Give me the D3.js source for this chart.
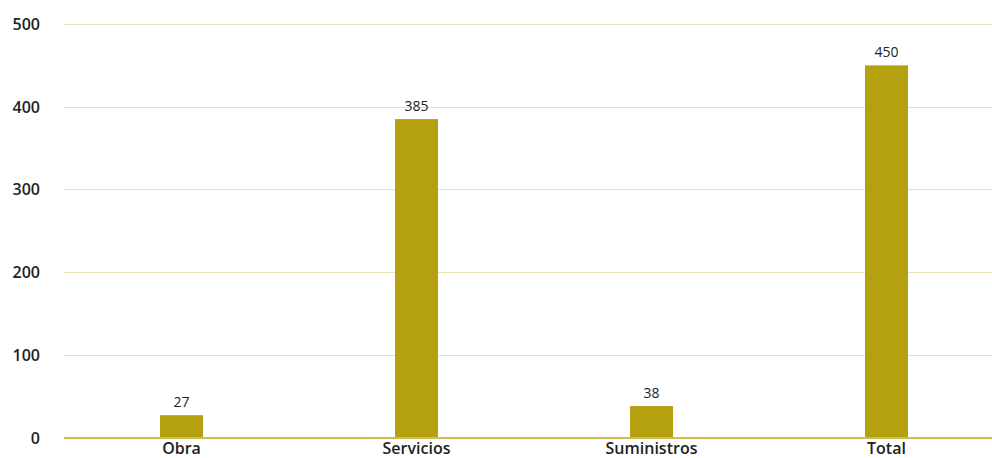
<!DOCTYPE html>
<html><head><meta charset="utf-8">
<script src="https://cdn.jsdelivr.net/npm/d3@7"></script>
<style>body{margin:0;background:#fff;}svg{display:block;font-family:"Open Sans","Noto Sans",sans-serif;}</style>
</head><body>
<svg id="c" width="992" height="458"></svg>
<script>
const categories = ["Obra", "Servicios", "Suministros", "Total"];
const values = [27, 385, 38, 450];
const yTicks = [0, 100, 200, 300, 400, 500];

const svg = d3.select("#c");
const x = d3.scaleBand().domain(categories).range([64, 1004]).padding(0);
const y = d3.scaleLinear().domain([0, 500]).range([437.5, 24]);
const barW = x.bandwidth() * 0.183;

// gridlines
svg.append("g").selectAll("line").data(yTicks.filter(d => d > 0)).join("line")
  .attr("x1", 64).attr("x2", 992)
  .attr("y1", d => Math.round(y(d)) + 0.5).attr("y2", d => Math.round(y(d)) + 0.5)
  .attr("stroke", "#ece2b0").attr("stroke-width", 1);

// y labels
svg.append("g").selectAll("text").data(yTicks).join("text")
  .attr("x", 40).attr("y", d => y(d) + 6)
  .attr("text-anchor", "end").attr("font-size", 16).attr("font-weight", 600)
  .attr("fill", "#222").text(d => d);

// bars
svg.append("g").selectAll("rect").data(values).join("rect")
  .attr("x", (d, i) => x(categories[i]) + x.bandwidth() / 2 - barW / 2)
  .attr("width", barW)
  .attr("y", d => y(d)).attr("height", d => y(0) - y(d))
  .attr("fill", "#b5a00f");

// zero line
svg.append("line").attr("x1", 64).attr("x2", 992)
  .attr("y1", 438).attr("y2", 438)
  .attr("stroke", "#cdbd55").attr("stroke-width", 2);

// value labels
svg.append("g").selectAll("text").data(values).join("text")
  .attr("x", (d, i) => x(categories[i]) + x.bandwidth() / 2)
  .attr("y", d => y(d) - 8)
  .attr("text-anchor", "middle").attr("font-size", 14)
  .attr("fill", "#222").text(d => d);

// category labels
svg.append("g").selectAll("text").data(categories).join("text")
  .attr("x", d => x(d) + x.bandwidth() / 2)
  .attr("y", 454)
  .attr("text-anchor", "middle").attr("font-size", 16).attr("font-weight", 600)
  .attr("fill", "#222").text(d => d);
</script>
</body></html>
